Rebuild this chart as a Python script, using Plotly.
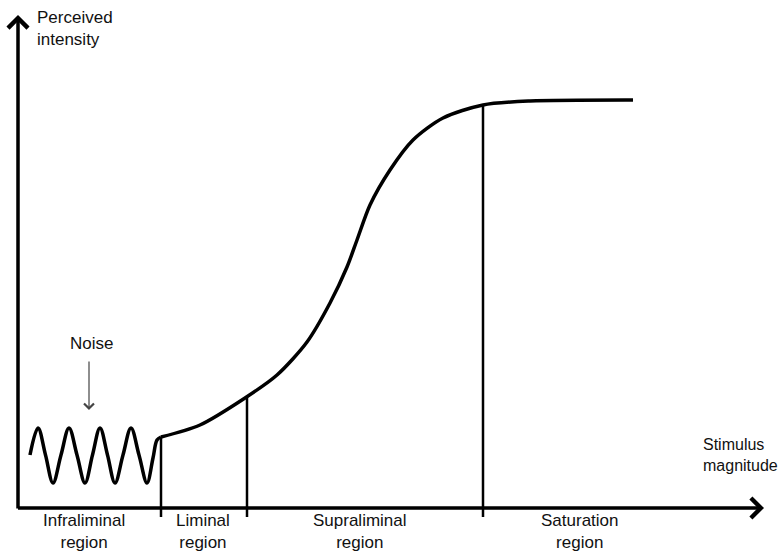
import plotly.graph_objects as go

# ---- data (units: stimulus magnitude / perceived intensity) ----
noise_x = [11, 19, 26.5, 34, 42, 50, 58, 66, 73.5, 81, 88.5, 96, 104, 112, 120, 128, 134, 138, 142]
noise_y = [53, 80, 53, 25, 53, 80, 53, 25, 53, 80, 53, 25, 53, 80, 53, 25, 50, 68, 71]

curve_x = [142, 181, 226, 258, 288, 311, 328, 338, 351, 371, 394, 424, 464, 511, 614]
curve_y = [71, 83, 110, 133, 166, 205, 241, 268, 303, 338, 368, 390, 403, 407, 408]

region_bounds = [142, 228, 464]
bound_tops = [71, 111, 403]
bound_bottom = -9

region_labels = ["Infraliminal<br>region", "Liminal<br>region", "Supraliminal<br>region", "Saturation<br>region"]
region_label_x = [65, 184, 341, 561]
region_label_y = -23

y_title = "Perceived<br>intensity"
x_title = "Stimulus<br>magnitude"

FONT = "Liberation Sans, Arial, sans-serif"
TXT = "#111111"
FS = 17

fig = go.Figure()

fig.add_trace(go.Scatter(x=noise_x, y=noise_y, mode="lines",
                         line=dict(color="black", width=3.5, shape="spline", smoothing=1.0),
                         hoverinfo="skip", showlegend=False))
fig.add_trace(go.Scatter(x=curve_x, y=curve_y, mode="lines",
                         line=dict(color="black", width=3.5, shape="spline", smoothing=0.8),
                         hoverinfo="skip", showlegend=False))

for bx, bt in zip(region_bounds, bound_tops):
    fig.add_trace(go.Scatter(x=[bx, bx], y=[bt, bound_bottom], mode="lines",
                             line=dict(color="black", width=2.5),
                             hoverinfo="skip", showlegend=False))

anns = []
# axes arrows
anns.append(dict(x=-1, y=493, ax=-1, ay=-2, xref="x", yref="y", axref="x", ayref="y", text="", showarrow=True,
                 arrowhead=4, arrowsize=1.1, arrowwidth=3.5, arrowcolor="black", standoff=0))
anns.append(dict(x=745, y=0, ax=-2.5, ay=0, xref="x", yref="y", axref="x", ayref="y", text="", showarrow=True,
                 arrowhead=4, arrowsize=1.1, arrowwidth=3.5, arrowcolor="black", standoff=0))
# noise arrow
anns.append(dict(x=70, y=98, ax=70, ay=148, xref="x", yref="y", axref="x", ayref="y", text="", showarrow=True,
                 arrowhead=4, arrowsize=1.6, arrowwidth=1.2, arrowcolor="#444444", standoff=0))
anns.append(dict(x=72, y=165, xref="x", yref="y", text="Noise", showarrow=False,
                 font=dict(family=FONT, size=FS, color=TXT), xanchor="center", yanchor="middle"))
anns.append(dict(x=16, y=480, xref="x", yref="y", text=y_title, showarrow=False, align="left",
                 font=dict(family=FONT, size=FS, color=TXT), xanchor="left", yanchor="middle"))
anns.append(dict(x=682, y=53, xref="x", yref="y", text=x_title, showarrow=False, align="left",
                 font=dict(family=FONT, size=16, color=TXT), xanchor="left", yanchor="middle"))
for t, lx in zip(region_labels, region_label_x):
    anns.append(dict(x=lx, y=region_label_y, xref="x", yref="y", text=t, showarrow=False, align="center",
                     font=dict(family=FONT, size=FS, color=TXT), xanchor="center", yanchor="middle"))

fig.update_layout(
    width=781, height=554,
    margin=dict(l=0, r=0, t=0, b=0),
    paper_bgcolor="white", plot_bgcolor="white",
    xaxis=dict(range=[-19, 762], visible=False, fixedrange=True),
    yaxis=dict(range=[-46, 508], visible=False, fixedrange=True),
    annotations=anns,
    showlegend=False,
)

fig.write_html("out.html", config={"displayModeBar": False},
               post_script="document.body.style.margin='0';document.body.style.overflow='hidden';")
